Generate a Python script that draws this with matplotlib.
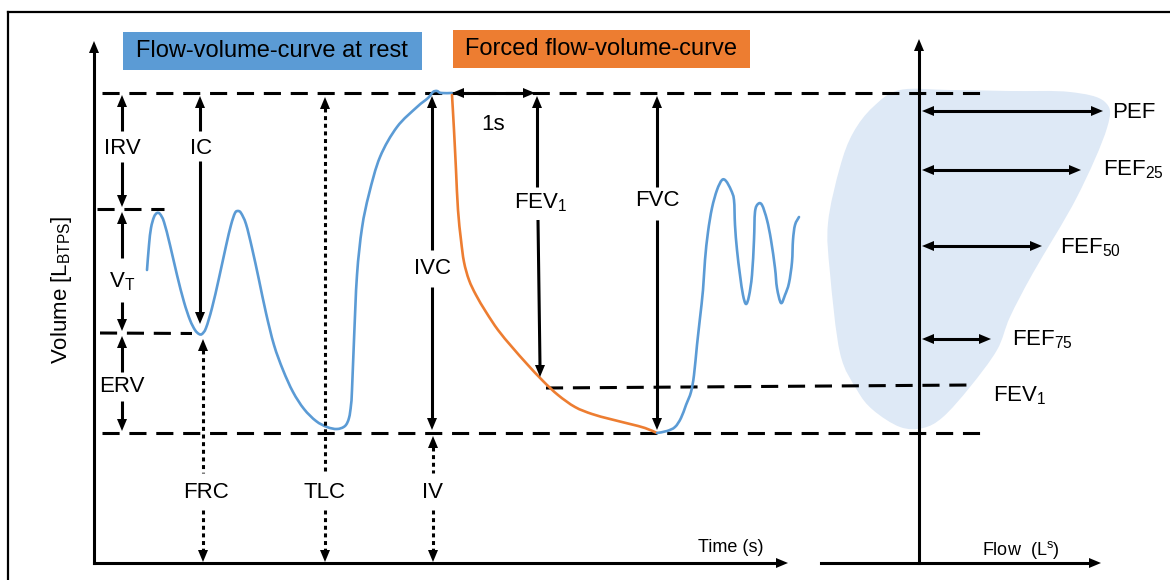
import matplotlib
matplotlib.use("Agg")
import matplotlib.pyplot as plt
import numpy as np
from matplotlib.patches import Polygon, Rectangle, PathPatch
from matplotlib.path import Path

# ── Traced curves (pixel space of the 1170x580 canvas, y grows downward) ──
rest_x = [147, 149, 151, 154, 157, 160, 164, 170, 177, 184, 190, 195, 199, 202, 206, 212,
          219, 226, 231, 235, 238, 241, 246, 252, 259, 266, 274, 283, 293, 304, 316, 327,
          337, 345, 349, 351, 352, 354, 357, 362, 369, 380, 397, 417, 428, 433, 437, 441, 452]
rest_y = [270, 245, 228, 217, 213, 214, 222, 245, 275, 302, 320, 330, 334, 334, 328, 308,
          278, 246, 225, 213, 211, 213, 224, 248, 280, 313, 345, 370, 392, 409, 421, 427,
          429, 426, 418, 405, 390, 340, 275, 228, 194, 157, 127, 107, 98, 92, 91, 93, 93]

forced_x = [452, 454, 456, 458, 461, 464, 469, 476, 486, 498, 512, 527, 543, 558, 575, 592,
            610, 630, 645, 657]
forced_y = [95, 130, 170, 210, 240, 262, 280, 295, 312, 330, 347, 364, 381, 395, 407, 414,
            419, 424, 428, 433]

after_x = [657, 667, 675, 681, 686, 691, 694, 697, 700, 703, 705, 708, 712, 717, 722, 726,
           731, 734, 735, 737, 740, 743, 746, 749, 752, 754, 755, 758, 762, 767, 771, 775,
           777, 781, 785, 789, 792, 793, 795, 799]
after_y = [433, 431, 427, 418, 405, 392, 375, 345, 318, 290, 260, 232, 208, 190, 180, 181,
           190, 200, 225, 250, 275, 295, 304, 296, 275, 240, 212, 204, 205, 220, 240, 268,
           288, 303, 295, 283, 262, 240, 225, 217]

loop_x = [900, 950, 1010, 1070, 1105, 1107, 1077, 1033, 1010, 997, 970, 943, 923, 900, 873,
          857, 840, 830, 828, 840, 853, 873]
loop_y = [90, 90, 91, 92, 102, 128, 197, 273, 317, 350, 387, 417, 428, 427, 410,
          390, 353, 273, 223, 167, 133, 107]

# volume levels
y_tlc, y_vt, y_frc, y_rv, y_fev = 93, 209, 333, 433, 386
y_base = 563

flow_labels = ["PEF", "FEF$_{\\mathrm{25}}$", "FEF$_{\\mathrm{50}}$", "FEF$_{\\mathrm{75}}$"]
flow_y = [111, 170, 246, 339]
flow_len = [1103, 1081, 1042, 991]

BLUE = "#5B9BD5"
ORANGE = "#ED7D31"
LOOP = "#DEE9F6"
FONT = "Liberation Sans"

plt.rcParams["font.family"] = FONT
plt.rcParams["mathtext.fontset"] = "custom"
plt.rcParams["mathtext.rm"] = FONT

fig = plt.figure(figsize=(11.7, 5.8), dpi=100)
ax = fig.add_axes([0, 0, 1, 1])
ax.set_xlim(0, 1170)
ax.set_ylim(580, 0)
ax.axis("off")

LW = 2.2          # ~3 px
DASH = (0, (5.6, 3.2))
DOT = (0, (1.3, 1.2))


def smooth_path(xs, ys, closed=False):
    """Bezier path through the traced points (Catmull-Rom tangents)."""
    p = np.column_stack([xs, ys]).astype(float)
    n = len(p)
    if closed:
        p = np.vstack([p, p[:1]])
    verts = [p[0]]
    codes = [Path.MOVETO]
    m = len(p)
    for i in range(m - 1):
        if closed:
            p0 = p[(i - 1) % n]
            p3 = p[(i + 2) % n]
        else:
            p0 = p[max(i - 1, 0)]
            p3 = p[min(i + 2, m - 1)]
        p1, p2 = p[i], p[i + 1]
        verts += [p1 + (p2 - p0) / 6, p2 - (p3 - p1) / 6, p2]
        codes += [Path.CURVE4] * 3
    return Path(verts, codes)


def curve(xs, ys, color):
    ax.add_patch(PathPatch(smooth_path(xs, ys), facecolor="none", edgecolor=color,
                           lw=1.9, capstyle="round", joinstyle="round", zorder=4))


def head(x, y, dx, dy, L=12, W=10):
    d = np.array([dx, dy], float)
    d /= np.hypot(*d)
    n = np.array([-d[1], d[0]])
    tip = np.array([x, y], float)
    base = tip - L * d
    ax.add_patch(Polygon([tip, base + W / 2 * n, base - W / 2 * n],
                         closed=True, color="black", lw=0, zorder=6))


def vline(x, y0, y1, ls="-", x1=None):
    x1 = x if x1 is None else x1
    ax.plot([x, x1], [y0, y1], color="black", lw=LW, ls=ls, solid_capstyle="butt",
            dash_capstyle="butt", zorder=5)


def txt(x, y, s, size=16, **kw):
    ax.text(x, y, s, fontsize=size, ha="center", va="center", color="black", zorder=7, **kw)


# border
ax.plot([8, 1175], [12, 12], color="black", lw=1.6)
ax.plot([8, 8], [12, 585], color="black", lw=1.6)

# flow-volume loop shading
ax.add_patch(PathPatch(smooth_path(loop_x, loop_y, closed=True), facecolor=LOOP,
                       edgecolor="none", zorder=1))

# axes
ax.plot([94, 94], [y_base, 52], color="black", lw=LW, zorder=5)
head(94, 41, 0, -1)
ax.plot([94, 777], [y_base, y_base], color="black", lw=LW, zorder=5)
head(788, y_base, 1, 0)
ax.plot([919, 919], [y_base, 50], color="black", lw=LW, zorder=5)
head(919, 39, 0, -1)
ax.plot([821, 1090], [y_base, y_base], color="black", lw=LW, zorder=5)
head(1101, y_base, 1, 0)

# dashed volume levels
ax.plot([102, 985], [y_tlc, y_tlc], color="black", lw=LW, ls=DASH, zorder=3)
ax.plot([97, 164], [y_vt, y_vt], color="black", lw=LW, ls=DASH, zorder=3)
ax.plot([100, 192], [y_frc, y_frc + 0.5], color="black", lw=LW, ls=DASH, zorder=3)
ax.plot([102, 985], [y_rv, y_rv], color="black", lw=LW, ls=DASH, zorder=3)
ax.plot([546, 972], [y_fev + 2, y_fev - 1], color="black", lw=LW, ls=DASH, zorder=3)

# curves
curve(rest_x, rest_y, BLUE)
curve(forced_x, forced_y, ORANGE)
curve(after_x, after_y, BLUE)

# IRV / VT / ERV
vline(122, 104, 131)
head(122, 95, 0, -1)
txt(122, 148, "IRV")
vline(122, 162, 197)
head(122, 207, 0, 1)
vline(122, 222, 258)
head(122, 212, 0, -1)
txt(122, 282, "V$_{\\mathrm{T}}$")
vline(122, 302, 321)
head(122, 331, 0, 1)
vline(122, 346, 372)
head(122, 336, 0, -1)
txt(122, 387, "ERV")
vline(122, 401, 421)
head(122, 431, 0, 1)

# IC
vline(200, 106, 131)
head(200, 96, 0, -1)
txt(201, 148, "IC")
vline(200, 161, 314)
head(200, 324, 0, 1)

# FRC / TLC / IV (dotted)
for xx, top in [(203, 339), (325, 97), (433, 436)]:
    vline(xx, top + 11, 473, ls=DOT)
    head(xx, top, 0, -1)
    vline(xx, 510, 552, ls=DOT)
    head(xx, 562, 0, 1)
txt(206, 493, "FRC")
txt(325, 493, "TLC")
txt(433, 493, "IV")

# IVC
vline(432, 107, 250)
head(432, 96, 0, -1)
txt(432, 269, "IVC")
vline(432, 287, 420)
head(432, 430, 0, 1)

# 1 s
ax.plot([463, 524], [y_tlc, y_tlc], color="black", lw=LW, zorder=5)
head(452, y_tlc, -1, 0)
head(535, y_tlc, 1, 0)
txt(493, 125, "1s")

# FEV1
vline(537, 107, 187)
head(537, 96, 0, -1)
txt(541, 203, "FEV$_{\\mathrm{1}}$")
vline(538, 220, 366, x1=540)
head(540, 377, 0, 1)

# FVC
vline(657, 107, 187)
head(657, 96, 0, -1)
txt(657, 201, "FVC")
vline(657, 220, 419)
head(657, 430, 0, 1)

# flow arrows
for fy, fx in zip(flow_y, flow_len):
    ax.plot([932, fx - 10], [fy, fy], color="black", lw=LW, zorder=5)
    head(922, fy, -1, 0)
    head(fx, fy, 1, 0)
txt(1134, 113, flow_labels[0])
txt(1133, 170, flow_labels[1])
txt(1090, 248, flow_labels[2])
txt(1042, 340, flow_labels[3])
txt(1020, 396, "FEV$_{\\mathrm{1}}$")

# legend boxes
ax.add_patch(Rectangle((123, 32), 299, 38, facecolor=BLUE, edgecolor="none", zorder=2))
txt(272, 51, "Flow-volume-curve at rest", size=17)
ax.add_patch(Rectangle((453, 30), 297, 38, facecolor=ORANGE, edgecolor="none", zorder=2))
txt(601, 49, "Forced flow-volume-curve", size=17)

# axis labels
txt(62, 290, "Volume [L$_{\\mathrm{BTPS}}$]", size=16, rotation=90)
txt(731, 547, "Time (s)", size=13)
txt(1021, 550, "Flow  (L$^{\\mathrm{s}}$)", size=13)

fig.savefig("out.png", dpi=100, facecolor="white")
